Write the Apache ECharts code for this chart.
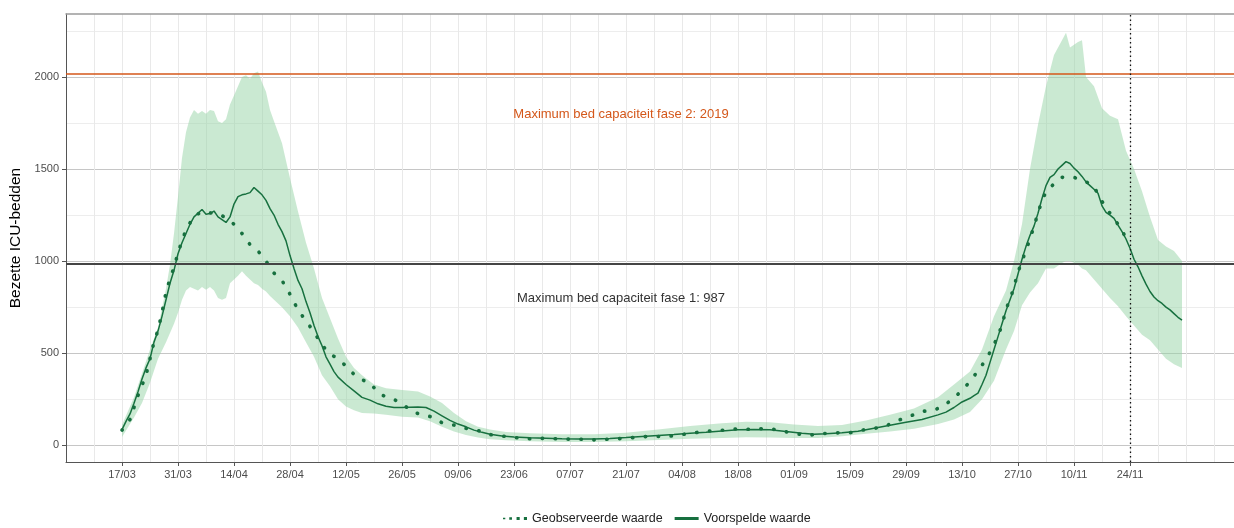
<!DOCTYPE html>
<html>
<head>
<meta charset="utf-8">
<script src="https://cdn.jsdelivr.net/npm/echarts@6/dist/echarts.min.js"></script>
<style>
html,body{margin:0;padding:0;background:#fff;}
#chart{width:1234px;height:528px;}
</style>
</head>
<body>
<div id="chart"></div>
<script>
// ---- data (day 0 = 17/03) ----
const tickDays = [0,14,28,42,56,70,84,98,112,126,140,154,168,182,196,210,224,238,252];
const tickLabels = ['17/03','31/03','14/04','28/04','12/05','26/05','09/06','23/06','07/07','21/07','04/08','18/08','01/09','15/09','29/09','13/10','27/10','10/11','24/11'];
const yTicks = [0,500,1000,1500,2000];
const yMinorTicks = [250,750,1250,1750,2250];

const predDays = [0,1,2,3,4,5,6,7,8,9,10,11,12,13,14,15,16,17,18,19,20,21,22,23,24,25,26,27,28,29,30,31,32,33,34,35,36,37,38,39,40,41,42,43,44,45,46,47,48,49,50,51,52,53,54,56,58,60,62,64,66,68,70,72,74,76,78,80,82,84,86,88,90,92,95,98,102,106,110,114,118,122,126,130,134,138,142,146,150,154,158,162,166,170,173,176,180,184,188,192,196,200,204,206,208,210,212,213,214,215,216,217,218,219,220,221,222,223,224,225,226,227,228,229,230,231,232,233,234,235,236,237,238,239,240,241,242,243,244,245,246,247,248,249,250,251,252,253,254,255,256,257,258,259,260,261,262,263,264,265];
const predVals = [85,130,170,228,290,360,420,470,560,620,700,790,880,950,1040,1100,1150,1200,1240,1260,1280,1255,1258,1272,1240,1225,1210,1240,1310,1350,1360,1365,1372,1400,1380,1360,1330,1285,1250,1200,1160,1110,1030,960,895,850,780,720,650,590,540,480,440,400,370,330,295,260,245,225,212,205,205,207,208,205,185,160,135,115,100,82,70,60,50,45,41,38,35,34,34,37,42,48,53,58,65,71,78,84,85,84,75,65,60,62,68,76,92,108,125,140,165,180,205,235,255,270,283,330,380,450,520,590,660,730,790,850,930,1010,1080,1140,1190,1260,1340,1410,1455,1470,1500,1520,1540,1530,1505,1485,1460,1430,1410,1390,1368,1300,1265,1250,1232,1195,1160,1120,1070,1010,969,920,875,835,805,785,770,750,735,715,695,680];

const obsDays = [0,2,4,6,8,9,10,11,12,13,14,15,16,18,20,22,24,26,28,30,32,34,36,38,40,42,44,46,48,50,52,54,56,58,60,62,64,66,68,70,72,74,76,78,80,82,84,86,88,90,92,94,96,98,102,106,110,114,118,122,126,130,132,136,139,142,145,148,151,154,157,160,163,166,169,172,175,178,182,185,188,191,194,197,200,203,205,208,210,212,214,216,218,220,221,222,223,224,225,226,227,228,229,230,231,233,235,238,241,243,244,246,248,250,251,252];
const obsVals = [82,140,270,380,560,625,720,830,905,965,1045,1110,1170,1245,1268,1262,1258,1235,1200,1150,1090,1055,1000,935,895,820,735,675,615,545,495,470,430,385,355,340,285,262,248,228,190,172,162,150,122,112,107,92,82,76,58,52,48,42,35,38,33,33,29,33,38,46,48,47,55,65,73,80,82,90,86,90,86,73,61,55,63,67,68,82,91,105,135,158,184,190,210,255,300,345,405,465,545,650,740,790,860,940,1000,1060,1120,1190,1260,1330,1375,1420,1455,1455,1431,1408,1360,1290,1230,1170,1120,1090];

const bandDays = [0,3,5,7,9,11,12,13,14,15,16,17,18,19,20,21,22,23,24,25,26,27,28,29,30,31,32,33,34,35,36,37,38,39,40,42,44,46,48,50,52,54,56,58,60,63,66,70,74,77,80,83,86,89,92,96,102,110,118,126,134,142,150,156,162,168,174,180,186,192,198,204,208,212,215,218,221,223,225,227,229,231,233,235,236,237,239,240,241,243,245,247,249,251,253,255,257,259,261,263,265];
const bandLow = [45,150,230,340,470,560,610,660,720,790,840,860,850,840,860,845,860,840,800,790,800,880,900,920,945,920,900,880,870,850,835,810,790,770,750,700,640,560,480,380,320,250,210,190,175,172,165,155,150,130,100,75,55,42,32,27,22,18,18,22,28,35,40,43,42,40,40,49,62,75,90,115,140,180,250,350,520,620,760,830,880,960,960,990,1000,1000,980,960,950,900,850,800,755,700,650,600,570,520,470,440,420];
const bandHigh = [110,260,390,520,640,850,980,1150,1350,1560,1700,1780,1820,1800,1815,1800,1820,1815,1760,1750,1770,1850,1900,1950,2000,2010,1990,2020,2030,1970,1920,1820,1760,1700,1640,1450,1270,1100,960,800,690,580,480,420,380,330,310,300,292,265,230,175,130,100,85,72,65,60,60,68,85,105,120,128,125,112,105,110,135,165,200,260,330,400,520,700,840,1000,1200,1500,1740,1950,2120,2200,2240,2160,2190,2200,2000,1950,1830,1790,1770,1600,1500,1380,1240,1115,1080,1055,1000];

const capacityPhase1 = 987;
const capacityPhase2 = 2019;
const forecastDay = 252;

// ---- chart ----
const GREEN = '#17703f';
const ORANGE = '#d4571a';
const chart = echarts.init(document.getElementById('chart'), null, {renderer: 'canvas'});
const predicted = predDays.map((d, i) => [d, predVals[i]]);
const observed = obsDays.map((d, i) => [d, obsVals[i]]);
const tickLabelOf = {};
tickDays.forEach((d, i) => { tickLabelOf[d] = tickLabels[i]; });

const font = 'Liberation Sans, Arial, sans-serif';

chart.setOption({
  animation: false,
  backgroundColor: '#fff',
  textStyle: {fontFamily: font},
  grid: {left: 66, right: 0, top: 14, bottom: 66, containLabel: false, outerBoundsMode: 'none'},
  xAxis: [{
    type: 'value', min: -14, max: 278, interval: 14,
    axisLine: {show: true, onZero: false, lineStyle: {color: '#555', width: 1}},
    axisTick: {show: true, length: 4, customValues: tickDays, lineStyle: {color: '#555'}},
    axisLabel: {customValues: tickDays, formatter: v => tickLabelOf[v] || '', color: '#4d4d4d', fontSize: 11, margin: 7, fontFamily: font},
    splitLine: {show: false}
  }, {
    type: 'value', min: -14, max: 278, interval: 7, position: 'top',
    axisLine: {show: true, onZero: false, lineStyle: {color: '#9a9a9a', width: 1.5}},
    axisTick: {show: false}, axisLabel: {show: false},
    splitLine: {show: true, lineStyle: {color: '#e9e9e9', width: 1}}
  }],
  yAxis: [{
    type: 'value', min: -91, max: 2342,
    name: 'Bezette ICU-bedden', nameLocation: 'middle', nameGap: 42,
    nameTextStyle: {color: '#000', fontSize: 15.5, fontFamily: font},
    axisLine: {show: true, onZero: false, lineStyle: {color: '#555', width: 1}},
    axisTick: {show: true, length: 4, customValues: yTicks, lineStyle: {color: '#555'}},
    axisLabel: {customValues: yTicks, formatter: v => String(v), color: '#4d4d4d', fontSize: 11, margin: 7, fontFamily: font},
    splitLine: {show: true, lineStyle: {color: '#c6c6c6', width: 1}}
  }, {
    type: 'value', min: -91, max: 2342, position: 'right',
    axisLine: {show: false}, axisLabel: {show: false},
    axisTick: {show: false, customValues: yMinorTicks},
    splitLine: {show: true, lineStyle: {color: '#ededed', width: 1}}
  }],
  legend: {
    top: 507, left: 498, itemWidth: 24, itemHeight: 10, itemGap: 12,
    textStyle: {color: '#222', fontSize: 12.5, fontFamily: font},
    data: [
      {name: 'Geobserveerde waarde', icon: 'path://M0,4.2h2.2v1.6h-2.2z M6,3.8h2.6v2.4h-2.6z M13,3.6h3v2.8h-3z M20,3.6h3v2.8h-3z', itemStyle: {color: GREEN}},
      {name: 'Voorspelde waarde', icon: 'path://M0,3.5h24v3h-24z', itemStyle: {color: GREEN}}
    ]
  },
  series: [{
    name: 'band', type: 'custom', xAxisIndex: 0, yAxisIndex: 0, clip: true, silent: true, z: 1,
    data: [[bandDays[0], bandLow[0]]],
    renderItem: function (params, api) {
      const pts = [];
      for (let i = 0; i < bandDays.length; i++) pts.push(api.coord([bandDays[i], bandHigh[i]]));
      for (let i = bandDays.length - 1; i >= 0; i--) pts.push(api.coord([bandDays[i], bandLow[i]]));
      return {type: 'polygon', shape: {points: pts}, style: {fill: 'rgba(150,212,165,0.5)'}};
    }
  }, {
    name: 'Geobserveerde waarde', type: 'line', data: observed, symbol: 'none', z: 4,
    lineStyle: {color: GREEN, width: 3.6, type: [0.4, 12.5], cap: 'round'},
    itemStyle: {color: GREEN},
    markLine: {
      silent: true, symbol: 'none', animation: false,
      label: {show: false},
      data: [
        {yAxis: capacityPhase1, lineStyle: {color: '#444', width: 1.8, type: 'solid'}},
        {yAxis: capacityPhase2, lineStyle: {color: ORANGE, width: 1.6, type: 'solid'}},
        {xAxis: forecastDay, lineStyle: {color: '#111', width: 1.3, type: [1.5, 3]}}
      ]
    },
    markPoint: {
      silent: true, symbol: 'circle', symbolSize: 0,
      data: [
        {coord: [124.75, 1795], label: {show: true, formatter: 'Maximum bed capaciteit fase 2: ' + capacityPhase2, color: ORANGE, fontSize: 13, fontFamily: font}},
        {coord: [124.75, 795], label: {show: true, formatter: 'Maximum bed capaciteit fase 1: ' + capacityPhase1, color: '#333', fontSize: 13, fontFamily: font}}
      ]
    }
  }, {
    name: 'Voorspelde waarde', type: 'line', data: predicted, symbol: 'none', z: 3,
    lineStyle: {color: GREEN, width: 1.5}, itemStyle: {color: GREEN}
  }]
});
</script>
</body>
</html>
